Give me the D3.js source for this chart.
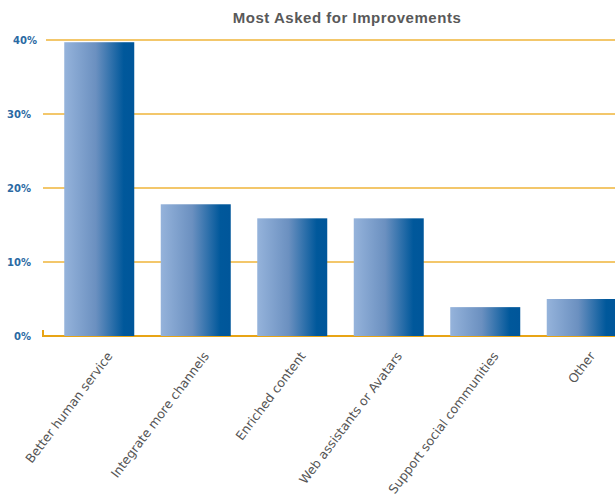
<!DOCTYPE html>
<html><head><meta charset="utf-8">
<script src="https://cdn.jsdelivr.net/npm/d3@7"></script>
<style>body{margin:0;background:#fff}</style>
</head><body>
<svg id="c" width="615" height="497"></svg>
<script>
const categories = ["Better human service","Integrate more channels","Enriched content","Web assistants or Avatars","Support social communities","Other"];
const values = [39.7, 17.8, 15.9, 15.9, 3.9, 5.0];
const yTicks = [0, 10, 20, 30, 40];
const yTickLabels = ["0%", "10%", "20%", "30%", "40%"];
const title = "Most Asked for Improvements";

const svg = d3.select("#c");
const W = 615, H = 497;
const gridLeft = 43, gridRight = 615;

const x = d3.scaleBand().domain(categories).range([51, 630]).paddingInner(0.2746).paddingOuter(0.1373);
const y = d3.scaleLinear().domain([0, 40]).range([336, 40]);

const defs = svg.append("defs");
const grad = defs.append("linearGradient").attr("id", "barGrad").attr("x1", 0).attr("x2", 1).attr("y1", 0).attr("y2", 0);
grad.append("stop").attr("offset", "0%").attr("stop-color", "#95b3db");
grad.append("stop").attr("offset", "45%").attr("stop-color", "#6b90c0");
grad.append("stop").attr("offset", "85%").attr("stop-color", "#00589b");
grad.append("stop").attr("offset", "100%").attr("stop-color", "#00569a");

// title
const t = svg.append("text").attr("x", 347).attr("y", 23).attr("text-anchor", "middle")
  .attr("font-family", "Liberation Sans, Arial, sans-serif").attr("font-weight", "bold")
  .attr("font-size", 15).attr("fill", "#595959").text(title);
const tl = t.node().getComputedTextLength();
t.attr("letter-spacing", ((228 - tl) / (title.length - 1)).toFixed(2));

// gridlines + y labels
const maxTick = d3.max(yTicks);
const gy = svg.append("g");
yTicks.forEach((v, i) => {
  const shift = v === maxTick ? 3 : 0;
  if (v !== 0) {
    gy.append("line").attr("x1", gridLeft + shift).attr("x2", gridRight)
      .attr("y1", y(v)).attr("y2", y(v))
      .attr("stroke", "#efb43a").attr("stroke-width", 1.5);
  }
  gy.append("text").attr("x", 31 + shift * 2).attr("y", y(v)).attr("dy", "0.35em")
    .attr("text-anchor", "end").attr("font-family", "DejaVu Sans, sans-serif")
    .attr("font-weight", "bold").attr("font-size", 10).attr("fill", "#2b6aa3")
    .text(yTickLabels[i]);
});

// baseline axis
svg.append("path")
  .attr("d", `M${gridLeft},${y(0) - 6}V${y(0)}H${gridRight}`)
  .attr("fill", "none").attr("stroke", "#e8a415").attr("stroke-width", 2);

// bars
svg.append("g").selectAll("rect").data(values).join("rect")
  .attr("x", (d, i) => x(categories[i]))
  .attr("width", x.bandwidth())
  .attr("y", d => y(d))
  .attr("height", d => y(0) - y(d))
  .attr("fill", "url(#barGrad)");

// x labels
svg.append("g").selectAll("text").data(categories).join("text")
  .attr("transform", d => `translate(${x(d) + x.bandwidth() / 2 + 14},${y(0) + 20}) rotate(-53)`)
  .attr("text-anchor", "end")
  .attr("font-family", "DejaVu Sans, sans-serif").attr("font-size", 12.5).attr("fill", "#555")
  .text(d => d);
</script>
</body></html>
